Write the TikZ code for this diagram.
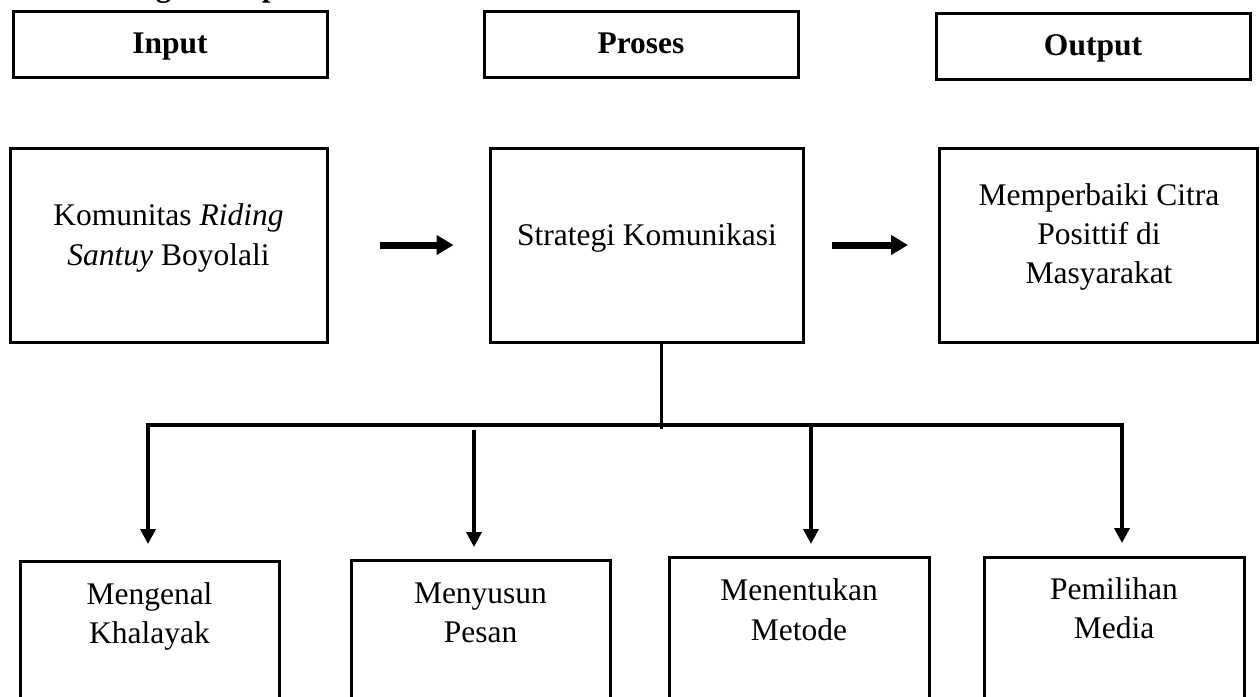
\documentclass[tikz,border=0pt]{standalone}
\usepackage{fontspec}
\setmainfont{Liberation Serif}
\usetikzlibrary{arrows.meta}
\begin{document}
\begin{tikzpicture}[x=1pt,y=-1pt,
  box/.style={draw, line width=3pt, inner sep=0pt},
  txt/.style={font=\fontsize{31.5}{39}\selectfont, inner sep=0pt, anchor=base},
  head/.style={font=\fontsize{31.5}{39}\selectfont\bfseries, inner sep=0pt, anchor=base},
  bigarrow/.style={line width=7pt, -{Triangle[length=17pt,width=19pt]}},
  downarrow/.style={line width=3.5pt, -{Triangle[length=15pt,width=15pt]}},
  treeline/.style={line width=4pt}]
\useasboundingbox (0,0) rectangle (1260,696);
\clip (0,0) rectangle (1260,696);

% cut-off title
\node[head, anchor=base west] (title) at (70,-3) {Kerangka Berpikir};

% header boxes
\node[box, minimum width=314pt, minimum height=66pt] (hin) at (170,44) {};
\node[box, minimum width=314pt, minimum height=66pt] (hpr) at (641,44) {};
\node[box, minimum width=314pt, minimum height=66pt] (hout) at (1093,46) {};
\node[head] (thin) at (170,53) {Input};
\node[head] (thpr) at (641,53) {Proses};
\node[head] (thout) at (1093,55) {Output};

% row 2
\node[box, minimum width=317pt, minimum height=194pt] (kom) at (168.5,245) {};
\node[box, minimum width=313pt, minimum height=194pt] (str) at (646.5,245) {};
\node[box, minimum width=318pt, minimum height=194pt] (out) at (1098,245) {};
\node[txt] (kom1) at (168.5,225) {Komunitas \textit{Riding}};
\node[txt] (kom2) at (168.5,265) {\textit{Santuy} Boyolali};
\node[txt] (str1) at (647,245) {Strategi Komunikasi};
\node[txt] (out1) at (1099,205) {Memperbaiki Citra};
\node[txt] (out2) at (1099,244) {Posittif di};
\node[txt] (out3) at (1099,283) {Masyarakat};

\draw[bigarrow, shorten <=51pt, shorten >=35pt] (kom) -- (str);
\draw[bigarrow, shorten <=27.5pt, shorten >=29.5pt] (str) -- (out);

% bottom boxes
\node[box, minimum width=259pt, minimum height=159pt] (b1) at (149.5,640.5) {};
\node[box, minimum width=259pt, minimum height=160pt] (b2) at (480.5,640) {};
\node[box, minimum width=260pt, minimum height=163pt] (b3) at (799,638.5) {};
\node[box, minimum width=260pt, minimum height=163pt] (b4) at (1114,638.5) {};
\node[txt] (b1a) at (149.5,604) {Mengenal};
\node[txt] (b1b) at (149.5,643) {Khalayak};
\node[txt] (b2a) at (480.5,603) {Menyusun};
\node[txt] (b2b) at (480.5,642) {Pesan};
\node[txt] (b3a) at (799,600) {Menentukan};
\node[txt] (b3b) at (799,640) {Metode};
\node[txt] (b4a) at (1114,599) {Pemilihan};
\node[txt] (b4b) at (1114,638) {Media};

% tree
\coordinate (j) at (661,429);
\coordinate (hl) at (146,425);
\coordinate (hr) at (1124,425);
\coordinate (d1) at (148,425);
\coordinate (d2) at (474,430);
\coordinate (d3) at (811,425);
\coordinate (d4) at (1122,425);
\draw[treeline, line width=3pt] ([xshift=14.5pt]str.south) -- (j);
\draw[treeline] (hl) -- (hr);
\draw[downarrow, shorten >=15.5pt] (d1) -- (d1 |- b1.north);
\draw[downarrow, shorten >=11.5pt] (d2) -- (d2 |- b2.north);
\draw[downarrow, shorten >=11.5pt] (d3) -- (d3 |- b3.north);
\draw[downarrow, shorten >=12.5pt] (d4) -- (d4 |- b4.north);
\end{tikzpicture}
\end{document}
